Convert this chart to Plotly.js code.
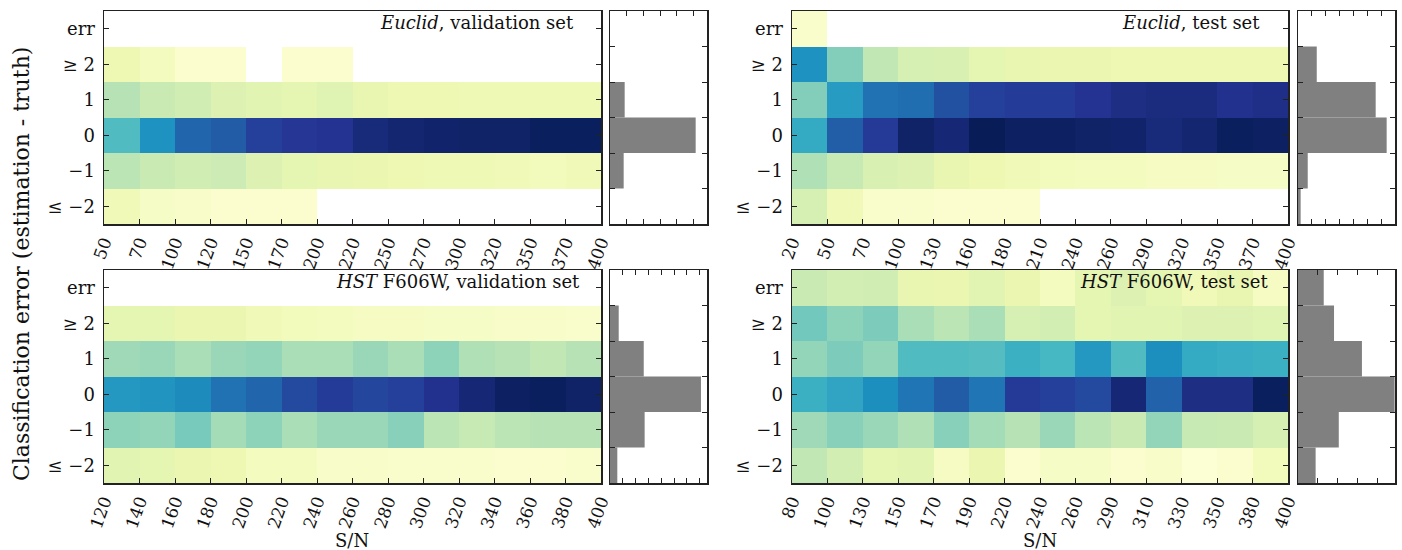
<!DOCTYPE html>
<html><head><meta charset="utf-8">
<script src="https://cdn.plot.ly/plotly-3.0.1.min.js"></script>
<style>html,body{margin:0;padding:0;background:#fff}#chart{width:1402px;height:550px}</style>
</head><body><div id="chart"></div><script>
// ---------- data ----------
const rowLabels = ['≤ −2', '−1', '0', '1', '≥ 2', 'err'];

// Euclid, validation set
const euclidValEdges = [50,70,100,120,150,170,200,220,250,270,300,320,350,370,400];
const euclidValZ = [
  [0.10,0.06,0.05,0.03,0.03,0.03,null,null,null,null,null,null,null,null],
  [0.27,0.24,0.22,0.23,0.18,0.15,0.14,0.13,0.12,0.11,0.11,0.10,0.09,0.10],
  [0.47,0.62,0.73,0.76,0.84,0.87,0.88,0.93,0.95,0.96,0.97,0.97,0.99,0.99],
  [0.28,0.24,0.22,0.18,0.16,0.15,0.17,0.14,0.12,0.12,0.11,0.11,0.11,0.11],
  [0.12,0.08,0.03,0.03,null,0.03,0.03,null,null,null,null,null,null,null],
  [null,null,null,null,null,null,null,null,null,null,null,null,null,null]
];
const euclidValHist = [0, 0.082, 0.514, 0.088, 0, 0];
const euclidValHistMax = 0.582;

// Euclid, test set
const euclidTestEdges = [20,50,70,100,130,160,180,210,240,260,290,320,350,370,400];
const euclidTestZ = [
  [0.20,0.10,0.04,0.04,0.03,0.03,0.03,null,null,null,null,null,null,null],
  [0.29,0.25,0.19,0.18,0.14,0.12,0.10,0.09,0.08,0.08,0.07,0.07,0.06,0.06],
  [0.54,0.75,0.86,0.97,0.94,1.00,0.98,0.98,0.97,0.96,0.93,0.95,0.99,0.98],
  [0.37,0.59,0.70,0.71,0.79,0.84,0.85,0.85,0.88,0.91,0.92,0.92,0.89,0.90],
  [0.62,0.37,0.26,0.20,0.19,0.15,0.14,0.13,0.13,0.12,0.12,0.12,0.12,0.12],
  [0.04,null,null,null,null,null,null,null,null,null,null,null,null,null]
];
const euclidTestHist = [0.019, 0.070, 0.638, 0.559, 0.135, 0];
const euclidTestHistMax = 0.698;

// HST F606W, validation set
const hstValEdges = [120,140,160,180,200,220,240,260,280,300,320,340,360,380,400];
const hstValZ = [
  [0.16,0.15,0.13,0.12,0.08,0.08,0.05,0.05,0.04,0.04,0.04,0.03,0.03,0.04],
  [0.35,0.34,0.39,0.31,0.35,0.30,0.33,0.33,0.36,0.27,0.25,0.27,0.28,0.28],
  [0.60,0.61,0.64,0.70,0.73,0.81,0.85,0.82,0.84,0.89,0.94,0.98,0.99,0.97],
  [0.32,0.33,0.30,0.33,0.34,0.30,0.30,0.33,0.30,0.35,0.29,0.28,0.26,0.28],
  [0.15,0.15,0.13,0.13,0.10,0.09,0.08,0.07,0.07,0.06,0.06,0.05,0.05,0.04],
  [null,null,null,null,null,null,null,null,null,null,null,null,null,null]
];
const hstValHist = [0.057, 0.270, 0.709, 0.263, 0.068, 0];
const hstValHistMax = 0.756;

// HST F606W, test set
const hstTestEdges = [80,100,130,150,170,190,220,240,260,290,310,330,350,380,400];
const hstTestZ = [
  [0.26,0.21,0.15,0.16,0.07,0.13,0.03,0.06,0.06,0.03,0.05,0.02,0.03,0.09],
  [0.32,0.36,0.33,0.29,0.36,0.31,0.28,0.33,0.27,0.24,0.34,0.25,0.24,0.20],
  [0.52,0.56,0.63,0.69,0.76,0.69,0.86,0.84,0.81,0.94,0.74,0.91,0.91,0.99],
  [0.34,0.38,0.34,0.47,0.47,0.46,0.52,0.49,0.60,0.47,0.63,0.54,0.53,0.52],
  [0.40,0.35,0.38,0.30,0.27,0.30,0.20,0.21,0.15,0.16,0.16,0.18,0.18,0.17],
  [0.24,0.21,0.22,0.14,0.13,0.16,0.13,0.08,0.15,0.18,0.15,0.10,0.14,0.07]
];
const hstTestHist = [0.089, 0.206, 0.488, 0.323, 0.182, 0.130];
const hstTestHistMax = 0.49;

const panelTitles = ['<i>Euclid</i>, validation set', '<i>Euclid</i>, test set',
                     '<i>HST</i> F606W, validation set', '<i>HST</i> F606W, test set'];
const yTitle = 'Classification error (estimation - truth)';
const xTitle = 'S/N';

// ---------- style ----------
const FONT = 'DejaVu Serif, serif';
const YlGnBu = [
  [0.000,'#ffffd9'],[0.125,'#edf8b1'],[0.250,'#c7e9b4'],[0.375,'#7fcdbb'],
  [0.500,'#41b6c4'],[0.625,'#1d91c0'],[0.750,'#225ea8'],[0.875,'#253494'],[1.000,'#081d58']
];
const W = 1402, H = 550;
const px = v => v / W;
const py = v => 1 - v / H;

const panels = [
  {edges: euclidValEdges, z: euclidValZ, hist: euclidValHist, hmax: euclidValHistMax,
   hx: [104, 601], bx: [610, 707], y: [11, 224], title: panelTitles[0], tx: 576, ty: 22, xt: false},
  {edges: euclidTestEdges, z: euclidTestZ, hist: euclidTestHist, hmax: euclidTestHistMax,
   hx: [792, 1288], bx: [1298, 1395], y: [11, 224], title: panelTitles[1], tx: 1262, ty: 22, xt: false},
  {edges: hstValEdges, z: hstValZ, hist: hstValHist, hmax: hstValHistMax,
   hx: [104, 601], bx: [610, 707], y: [270, 483], title: panelTitles[2], tx: 582, ty: 281, xt: true},
  {edges: hstTestEdges, z: hstTestZ, hist: hstTestHist, hmax: hstTestHistMax,
   hx: [792, 1288], bx: [1298, 1395], y: [270, 483], title: panelTitles[3], tx: 1270, ty: 281, xt: true}
];

const traces = [];
const layout = {
  width: W, height: H, margin: {l: 0, r: 0, t: 0, b: 0},
  paper_bgcolor: '#fff', plot_bgcolor: '#fff', showlegend: false,
  font: {family: FONT, size: 16, color: '#111'},
  annotations: []
};
const lineStyle = {showline: true, linecolor: '#222', linewidth: 1.5, showgrid: false, zeroline: false,
                   ticks: 'inside', ticklen: 5, tickwidth: 1, tickcolor: '#222'};

panels.forEach((p, i) => {
  const ax = 2 * i + 1, bx = 2 * i + 2;
  const rows = rowLabels.map((_, k) => k);
  const edgeIdx = p.edges.map((_, k) => k);
  traces.push({
    type: 'heatmap', x: edgeIdx, y: rows, z: p.z,
    colorscale: YlGnBu, zmin: 0, zmax: 1, showscale: false, hoverinfo: 'skip',
    xaxis: 'x' + ax, yaxis: 'y' + ax
  });
  traces.push({
    type: 'bar', orientation: 'h', x: p.hist, y: rows, width: 1,
    marker: {color: '#808080', line: {width: 0}}, hoverinfo: 'skip',
    xaxis: 'x' + bx, yaxis: 'y' + bx
  });
  const yd = [py(p.y[1]), py(p.y[0])];
  layout['xaxis' + ax] = Object.assign({}, lineStyle, {
    domain: [px(p.hx[0]), px(p.hx[1])], anchor: 'y' + ax, range: [0, p.edges.length - 1],
    tickmode: 'array', tickvals: edgeIdx, ticktext: p.edges.map(String), tickangle: -70,
    mirror: true, tickfont: {family: FONT, size: 17, color: '#111'}
  });
  layout['yaxis' + ax] = Object.assign({}, lineStyle, {
    domain: yd, anchor: 'x' + ax, range: [-0.5, 5.5],
    tickmode: 'array', tickvals: rows, ticktext: rowLabels, mirror: 'ticks', tickangle: 0,
    tickfont: {family: FONT, size: 18, color: '#111'}, ticklabelstandoff: 4
  });
  const dt = 0.1;
  const htv = [];
  for (let v = 0; v <= p.hmax + 1e-9; v += dt) htv.push(+v.toFixed(3));
  layout['xaxis' + bx] = Object.assign({}, lineStyle, {
    domain: [px(p.bx[0]), px(p.bx[1])], anchor: 'y' + bx, range: [0, p.hmax],
    tickmode: 'array', tickvals: htv, showticklabels: false, mirror: 'ticks'
  });
  layout['yaxis' + bx] = Object.assign({}, lineStyle, {
    domain: yd, anchor: 'x' + bx, range: [-0.5, 5.5],
    tickmode: 'array', tickvals: [0.5, 1.5, 2.5, 3.5, 4.5], showticklabels: false, mirror: 'ticks'
  });
  layout.annotations.push({
    xref: 'paper', yref: 'paper', x: px(p.tx), y: py(p.ty), xanchor: 'right', yanchor: 'middle',
    text: p.title, showarrow: false, font: {family: FONT, size: 18, color: '#111'}
  });
  if (p.xt) {
    layout.annotations.push({
      xref: 'paper', yref: 'paper', x: px((p.hx[0] + p.hx[1]) / 2), y: py(540), xanchor: 'center', yanchor: 'middle',
      text: xTitle, showarrow: false, font: {family: FONT, size: 18, color: '#111'}
    });
  }
});
layout.annotations.push({
  xref: 'paper', yref: 'paper', x: px(21), y: py(264), xanchor: 'center', yanchor: 'middle',
  text: yTitle, textangle: -90, showarrow: false, font: {family: FONT, size: 22, color: '#111'}
});

Plotly.newPlot('chart', traces, layout, {staticPlot: true, displayModeBar: false});
</script></body></html>
